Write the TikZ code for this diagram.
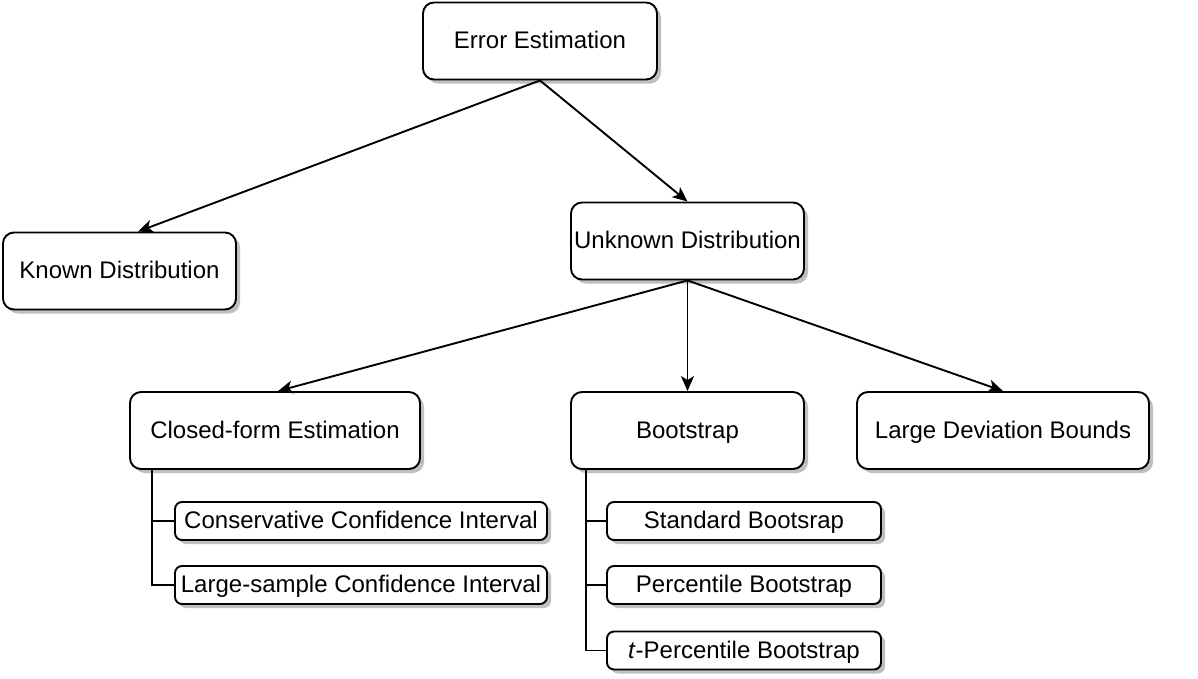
\documentclass[tikz,border=0pt]{standalone}
\usepackage{fontspec}
\setmainfont{Liberation Sans}
\usetikzlibrary{shadows,arrows.meta,calc}
\begin{document}
\begin{tikzpicture}[x=1pt,y=-1pt,
  bigbox/.style={draw=black, line width=1.9pt, fill=white, rounded corners=11pt,
    minimum width=#1, minimum height=77pt, inner sep=0pt, align=center,
    text height=19pt, text depth=4pt,
    font=\fontsize{24}{28}\selectfont,
    drop shadow={shadow xshift=4pt, shadow yshift=-4pt, fill=black!25, opacity=1}},
  smallbox/.style={draw=black, line width=1.9pt, fill=white, rounded corners=7pt,
    minimum width=#1, minimum height=38pt, inner sep=0pt, align=center,
    text height=19pt, text depth=4pt,
    font=\fontsize{24}{28}\selectfont,
    drop shadow={shadow xshift=4pt, shadow yshift=-4pt, fill=black!25, opacity=1}},
  arr/.style={line width=1.9pt, -{Stealth[length=15pt,width=13pt,inset=4pt]}},
  tree/.style={line width=1.9pt}]
\useasboundingbox (0,0) rectangle (1198,678);
\node[bigbox=234] (ee) at (540,41) {Error Estimation};
\node[bigbox=233] (kd) at (119.5,271) {Known Distribution};
\node[bigbox=233] (ud) at (687.5,241) {Unknown Distribution};
\node[bigbox=290] (cf) at (275,430.5) {Closed-form Estimation};
\node[bigbox=233] (bs) at (687.5,430.5) {Bootstrap};
\node[bigbox=292] (ld) at (1003,430.5) {Large Deviation Bounds};
\node[smallbox=372] (cci) at (361,521) {Conservative Confidence Interval};
\node[smallbox=372] (lci) at (361,585) {Large-sample Confidence Interval};
\node[smallbox=274] (sb) at (744,521) {Standard Bootsrap};
\node[smallbox=274] (pb) at (744,585) {Percentile Bootstrap};
\node[smallbox=274] (tb) at (744,650.5) {\textit{t}-Percentile Bootstrap};
\draw[arr] (ee.south) -- ([xshift=18.5pt]kd.north);
\draw[arr] (ee.south) -- (ud.north);
\draw[arr] (ud.south) -- ([xshift=3pt]cf.north);
\draw[arr] (ud.south) -- (bs.north);
\draw[arr] (ud.south) -- (ld.north);
\coordinate (cft) at ([xshift=23pt]cf.south west);
\coordinate (bst) at ([xshift=16pt]bs.south west);
\draw[tree] (cft) |- (lci.west);
\draw[tree] (cft |- cci.west) -- (cci.west);
\draw[tree] (bst) |- (tb.west);
\draw[tree] (bst |- sb.west) -- (sb.west);
\draw[tree] (bst |- pb.west) -- (pb.west);
\end{tikzpicture}
\end{document}
